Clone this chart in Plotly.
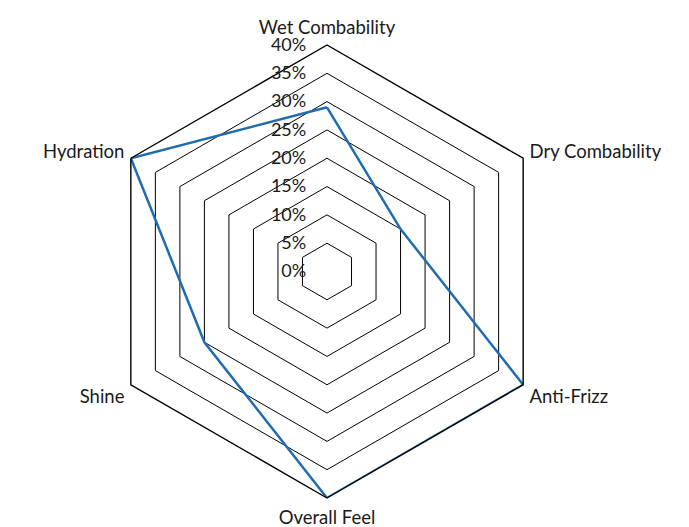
import plotly.graph_objects as go

categories = ["Wet Combability", "Dry Combability", "Anti-Frizz", "Overall Feel", "Shine", "Hydration"]
values = [29, 15, 40, 40, 25, 40]
tick_vals = [0, 5, 10, 15, 20, 25, 30, 35, 40]
tick_text = ["0%", "5%", "10%", "15%", "20%", "25%", "30%", "35%", "40%"]

fig = go.Figure()
fig.add_trace(go.Scatterpolar(
    r=values + values[:1],
    theta=categories + categories[:1],
    mode="lines",
    line=dict(color="#1f6db0", width=2.5),
    showlegend=False,
))

fig.update_layout(
    width=689, height=527,
    margin=dict(l=92, r=143, t=37, b=37),
    paper_bgcolor="white",
    font=dict(family="Lato, Open Sans, sans-serif", size=18, color="#1a1a1a"),
    polar=dict(
        bgcolor="white",
        gridshape="linear",
        domain=dict(x=[0, 1], y=[0, 1]),
        angularaxis=dict(
            rotation=90, direction="clockwise",
            showgrid=False, showline=True, linecolor="black", linewidth=1.4,
            ticks="outside", ticklen=3, tickcolor="rgba(0,0,0,0)",
            tickfont=dict(size=18.5, color="#1a1a1a"),
        ),
        radialaxis=dict(
            range=[0, 40], tickvals=tick_vals, ticktext=tick_text,
            angle=90, tickangle=90, side="counterclockwise",
            showline=False, showgrid=True, gridcolor="black", gridwidth=1.4,
            ticks="outside", ticklen=14, tickcolor="rgba(0,0,0,0)",
            tickfont=dict(size=18, color="#1a1a1a"),
        ),
    ),
)

fig.write_html("out.html")
